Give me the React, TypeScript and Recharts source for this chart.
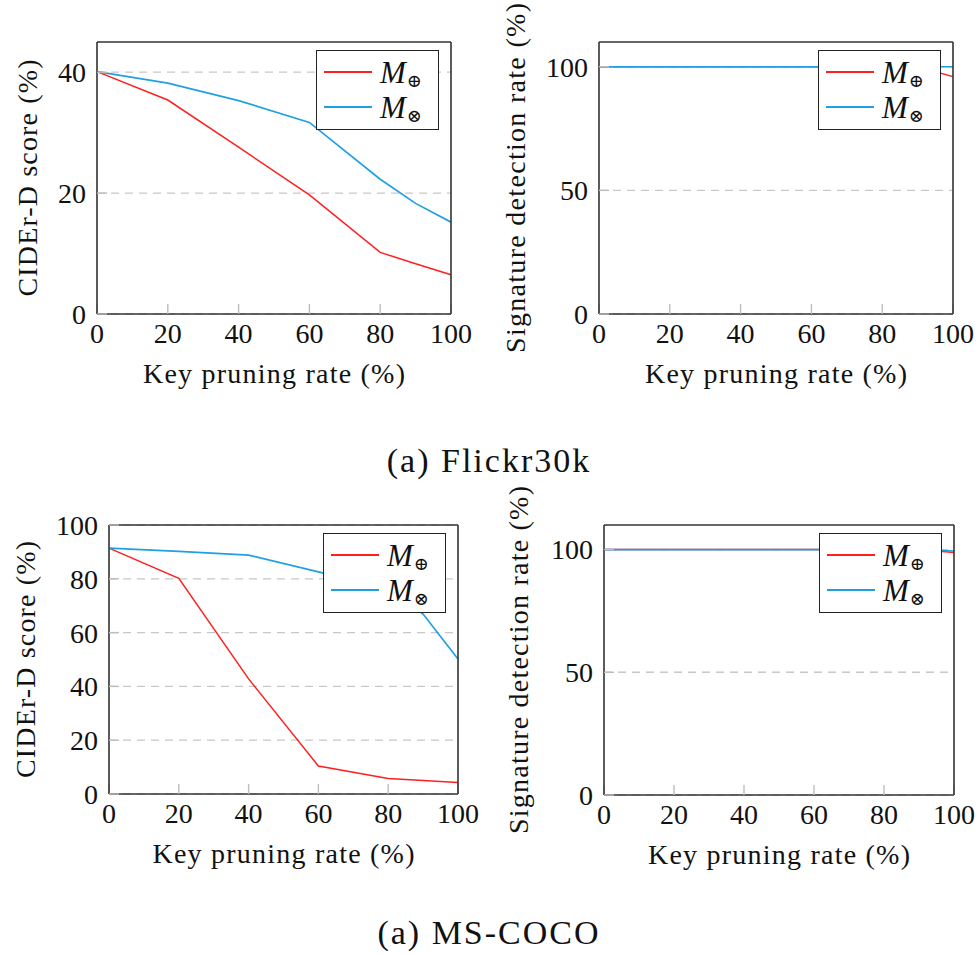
import { CartesianGrid, Label, Legend, Line, LineChart, XAxis, YAxis } from "recharts";

// key pruning rate (%) on every panel
const pruningRates = [0, 20, 40, 60, 80, 90, 100];
const xTicks = [0, 20, 40, 60, 80, 100];

// Flickr30k
const flickrCiderAdd = [40.1, 35.4, 27.6, 19.7, 10.2, 8.3, 6.5];
const flickrCiderMul = [40.1, 38.2, 35.3, 31.7, 22.3, 18.3, 15.2];
const flickrDetectAdd = [100, 100, 100, 100, 100, 100, 96];
const flickrDetectMul = [100, 100, 100, 100, 100, 100, 100];

// MS-COCO
const cocoCiderAdd = [91.4, 80.2, 42.8, 10.4, 5.8, 5.0, 4.3];
const cocoCiderMul = [91.4, 90.2, 88.8, 82.6, 76.0, 66.9, 50.2];
const cocoDetectAdd = [100, 100, 100, 100, 100, 100, 98.8];
const cocoDetectMul = [100, 100, 100, 100, 100, 100, 99.4];

const seriesNames = ["M⊕", "M⊗"];

const RED = "#ff1f1f";
const BLUE = "#1fa0e4";
const FONT = '"Liberation Serif", "DejaVu Serif", serif';
const TICK = { fontFamily: FONT, fontSize: 28, fill: "#111" };

const PAD_LEFT = 115;
const PAD_TOP = 42;
const PAD_RIGHT = 29;
const PAD_BOTTOM = 76;

function LegendBox({ payload }: any) {
  const items = (payload || []) as { value: string; color: string }[];
  return (
    <div
      style={{
        boxSizing: "border-box",
        width: 123,
        height: 80,
        border: "1.6px solid #222",
        background: "#fff",
        position: "relative",
        fontFamily: FONT,
        color: "#111",
      }}
    >
      {items.map((item, i) => (
        <div
          key={item.value}
          style={{ position: "absolute", left: 7, top: 4 + i * 35.3, height: 34, display: "flex", alignItems: "center" }}
        >
          <svg width={48} height={4} style={{ display: "block" }}>
            <line x1={0} x2={48} y1={2} y2={2} stroke={i === 0 ? RED : BLUE} strokeWidth={1.8} />
          </svg>
          <span style={{ marginLeft: 8, fontStyle: "italic", fontSize: 31, lineHeight: 1 }}>{item.value.slice(0, 1)}</span>
          <span style={{ fontSize: 18, position: "relative", top: 9, marginLeft: 1 }}>{item.value.slice(1)}</span>
        </div>
      ))}
    </div>
  );
}

type PanelProps = {
  left: number;
  top: number;
  plotWidth: number;
  plotHeight: number;
  add: number[];
  mul: number[];
  yMax: number;
  yTicks: number[];
  yLabel: string;
  yLabelShift: number;
  yLabelLength: number;
};

function Panel({ left, top, plotWidth, plotHeight, add, mul, yMax, yTicks, yLabel, yLabelShift, yLabelLength }: PanelProps) {
  const data = pruningRates.map((x, i) => ({ x, add: add[i], mul: mul[i] }));
  const width = plotWidth + PAD_LEFT + PAD_RIGHT;
  const height = plotHeight + PAD_TOP + PAD_BOTTOM;
  const axisLine = { stroke: "#333", strokeWidth: 1.6 };
  const tickLine = { stroke: "#bdbdbd", strokeWidth: 1.4 };

  return (
    <div style={{ position: "absolute", left: left - PAD_LEFT, top: top - PAD_TOP }}>
      <LineChart
        width={width}
        height={height}
        data={data}
        margin={{ top: PAD_TOP - 1, left: PAD_LEFT - 90, right: PAD_RIGHT - 1, bottom: 16 }}
      >
        <CartesianGrid vertical={false} syncWithTicks stroke="#c8c8c8" strokeWidth={1.3} strokeDasharray="8 6" />
        <XAxis
          dataKey="x"
          type="number"
          domain={[0, 100]}
          ticks={xTicks}
          height={60}
          tickSize={-10}
          tickMargin={19}
          tick={TICK}
          axisLine={axisLine}
          tickLine={tickLine}
        >
          <Label
            content={({ viewBox }: any) => (
              <text
                x={viewBox.x + viewBox.width / 2}
                y={viewBox.y + 69}
                textAnchor="middle"
                textLength={262}
                lengthAdjust="spacing"
                style={{ fontFamily: FONT, fontSize: 28, fill: "#111" }}
              >
                Key pruning rate (%)
              </text>
            )}
          />
        </XAxis>
        <XAxis
          xAxisId="top"
          orientation="top"
          dataKey="x"
          type="number"
          domain={[0, 100]}
          ticks={xTicks}
          height={1}
          tick={false}
          tickSize={-10}
          axisLine={axisLine}
          tickLine={tickLine}
        />
        <YAxis
          type="number"
          domain={[0, yMax]}
          ticks={yTicks}
          width={90}
          tickSize={-10}
          tickMargin={21}
          tick={TICK}
          axisLine={axisLine}
          tickLine={tickLine}
        >
          <Label
            content={({ viewBox }: any) => {
              const cx = viewBox.x + viewBox.width + yLabelShift;
              const cy = viewBox.y + viewBox.height / 2;
              return (
                <text
                  x={cx}
                  y={cy}
                  transform={`rotate(-90 ${cx} ${cy})`}
                  textAnchor="middle"
                  dominantBaseline="central"
                  textLength={yLabelLength}
                  lengthAdjust="spacing"
                  style={{ fontFamily: FONT, fontSize: 28, fill: "#111" }}
                >
                  {yLabel}
                </text>
              );
            }}
          />
        </YAxis>
        <YAxis
          yAxisId="right"
          orientation="right"
          type="number"
          domain={[0, yMax]}
          ticks={yTicks}
          width={1}
          tick={false}
          tickSize={-10}
          axisLine={axisLine}
          tickLine={tickLine}
        />
        <Legend
          layout="vertical"
          align="center"
          verticalAlign="middle"
          wrapperStyle={{ left: PAD_LEFT + plotWidth - 12 - 123, top: PAD_TOP + 8, width: 123, height: 80 }}
          content={LegendBox}
        />
        <Line
          type="linear"
          dataKey="add"
          name={seriesNames[0]}
          stroke={RED}
          strokeWidth={1.5}
          dot={false}
          isAnimationActive={false}
        />
        <Line
          type="linear"
          dataKey="mul"
          name={seriesNames[1]}
          stroke={BLUE}
          strokeWidth={1.7}
          dot={false}
          isAnimationActive={false}
        />
      </LineChart>
    </div>
  );
}

const captionStyle = {
  position: "absolute" as const,
  left: 0,
  width: 978,
  textAlign: "center" as const,
  fontFamily: FONT,
  fontSize: 34,
  lineHeight: 1,
  letterSpacing: 2,
  color: "#111",
};

export default function App() {
  return (
    <div style={{ position: "absolute", left: 0, top: 0, width: 978, height: 954, background: "#fff", overflow: "hidden" }}>
      <Panel
        left={97}
        top={42}
        plotWidth={354}
        plotHeight={272}
        add={flickrCiderAdd}
        mul={flickrCiderMul}
        yMax={45}
        yTicks={[0, 20, 40]}
        yLabel="CIDEr-D score (%)"
        yLabelShift={-70}
        yLabelLength={237}
      />
      <Panel
        left={599}
        top={42}
        plotWidth={354}
        plotHeight={272}
        add={flickrDetectAdd}
        mul={flickrDetectMul}
        yMax={110}
        yTicks={[0, 50, 100]}
        yLabel="Signature detection rate (%)"
        yLabelShift={-84}
        yLabelLength={350}
      />
      <div style={{ ...captionStyle, top: 444 }}>(a) Flickr30k</div>
      <Panel
        left={109}
        top={525}
        plotWidth={349}
        plotHeight={269}
        add={cocoCiderAdd}
        mul={cocoCiderMul}
        yMax={100}
        yTicks={[0, 20, 40, 60, 80, 100]}
        yLabel="CIDEr-D score (%)"
        yLabelShift={-84}
        yLabelLength={237}
      />
      <Panel
        left={604}
        top={525}
        plotWidth={350}
        plotHeight={270}
        add={cocoDetectAdd}
        mul={cocoDetectMul}
        yMax={110}
        yTicks={[0, 50, 100]}
        yLabel="Signature detection rate (%)"
        yLabelShift={-86}
        yLabelLength={348}
      />
      <div style={{ ...captionStyle, top: 916 }}>(a) MS-COCO</div>
    </div>
  );
}
